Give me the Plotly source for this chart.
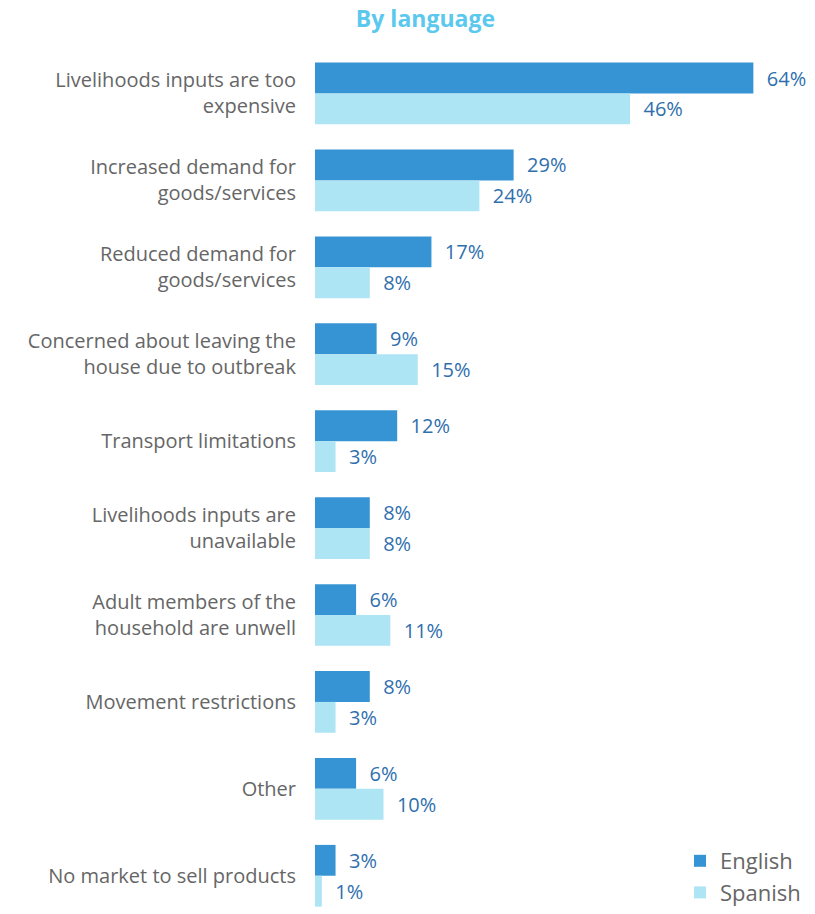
import plotly.graph_objects as go

# Reasons, top to bottom
categories = [
    "Livelihoods inputs are too<br>expensive",
    "Increased demand for<br>goods/services",
    "Reduced demand for<br>goods/services",
    "Concerned about leaving the<br>house due to outbreak",
    "Transport limitations",
    "Livelihoods inputs are<br>unavailable",
    "Adult members of the<br>household are unwell",
    "Movement restrictions",
    "Other",
    "No market to sell products",
]
english = [64, 29, 17, 9, 12, 8, 6, 8, 6, 3]
spanish = [46, 24, 8, 15, 3, 8, 11, 3, 10, 1]

ENGLISH_COLOR = "#3794d4"
SPANISH_COLOR = "#ade5f5"
LABEL_COLOR = "#2f6fae"
FONT = "Open Sans, Lato, sans-serif"

fig = go.Figure()
for name, vals, color in [("English", english, ENGLISH_COLOR), ("Spanish", spanish, SPANISH_COLOR)]:
    fig.add_trace(go.Bar(
        y=categories, x=vals, name=name, orientation="h",
        marker=dict(color=color, line=dict(width=0)),
        text=[f"\u00a0\u00a0{v}%" for v in vals], textposition="outside",
        textfont=dict(color=LABEL_COLOR, size=20, family=FONT),
        cliponaxis=False,
    ))

fig.update_layout(
    width=815, height=914,
    barmode="group", bargap=0.29, bargroupgap=0,
    margin=dict(l=315, r=0, t=50, b=0, autoexpand=False),
    plot_bgcolor="white", paper_bgcolor="white",
    font=dict(family=FONT, color="#666666", size=20),
    title=dict(text="<b>By language</b>", x=0.522, xanchor="center", y=0.979, yanchor="middle",
               font=dict(size=23, color="#5bc8ee", family=FONT)),
    xaxis=dict(range=[0, 73], visible=False),
    yaxis=dict(autorange=False, range=[9.44, -0.5], showgrid=False, ticks="",
               automargin=False, ticklabelstandoff=18,
               tickfont=dict(size=20, color="#666666", family=FONT)),
    legend=dict(x=0.73, y=0.0, xanchor="left", yanchor="bottom", orientation="v",
                font=dict(size=22, color="#666666", family=FONT), tracegroupgap=4,
                itemwidth=30, bgcolor="rgba(0,0,0,0)"),
    showlegend=True,
)

# the page's default body margin would shift the figure by 8px
fig.write_html("out.html", config={"displayModeBar": False},
               post_script="document.body.style.margin='0';")
